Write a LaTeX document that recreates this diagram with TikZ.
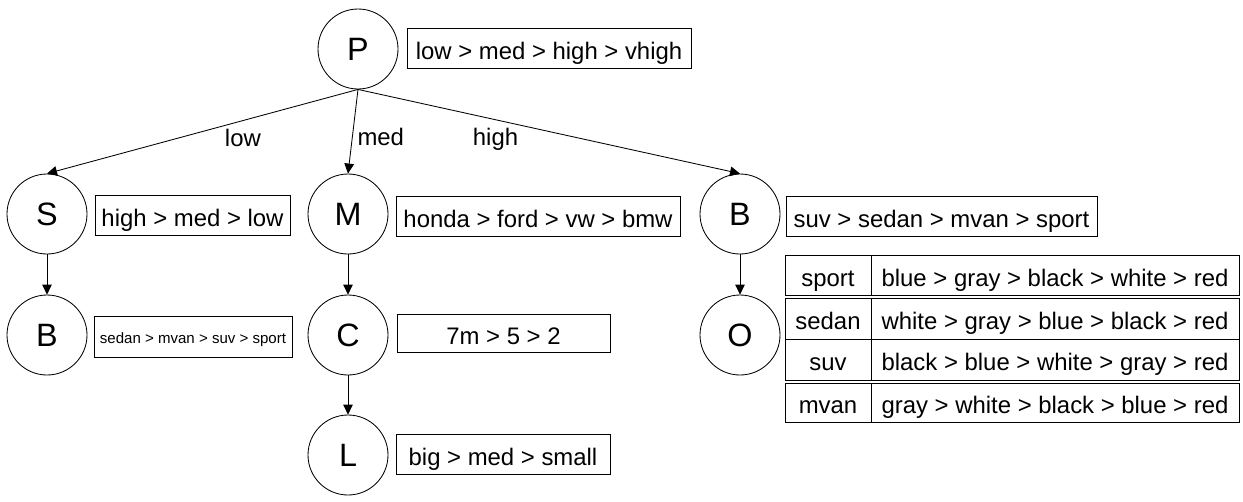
\documentclass[tikz,border=0pt]{standalone}
\usepackage{fontspec}
\setmainfont{Liberation Sans}
\usetikzlibrary{arrows.meta}
\newlength\px
\setlength\px{0.025cm}
\tikzset{
  vertex/.style={draw,circle,minimum size=80\px,inner sep=0pt,line width=0.6pt,
    font=\fontsize{23}{27}\selectfont},
  order/.style={draw,rectangle,inner sep=0pt,line width=0.6pt,
    text height=18pt,text depth=2pt,
    font=\fontsize{17}{20}\selectfont},
  lbl/.style={font=\fontsize{17}{20}\selectfont},
  arr/.style={-{Triangle[length=2.5mm,width=2.4mm]},line width=0.6pt},
}
\begin{document}
\begin{tikzpicture}[x=\px,y=-\px]
\useasboundingbox (0,0) rectangle (1243,501);

% variables
\node[vertex] (P) at (358,49) {P};
\node[vertex] (S) at (47,214) {S};
\node[vertex] (B1) at (47,335) {B};
\node[vertex] (M) at (348,214) {M};
\node[vertex] (C) at (348,335) {C};
\node[vertex] (L) at (348,455) {L};
\node[vertex] (B2) at (740,214) {B};
\node[vertex] (O) at (740,335) {O};

% preference orders
\node[order,minimum width=284\px,minimum height=40\px] (Pord) at (549,48) {low > med > high > vhigh};
\node[order,minimum width=195\px,minimum height=40\px] (Sord) at (192.5,215) {high > med > low};
\node[order,minimum width=198\px,minimum height=41\px,text height=11pt,text depth=1pt,
  font=\fontsize{10.7}{13}\selectfont] (B1ord) at (193,336.5) {sedan > mvan > suv > sport};
\node[order,minimum width=284\px,minimum height=40\px] (Mord) at (538,216) {honda > ford > vw > bmw};
\node[order,minimum width=213\px,minimum height=38\px] (Cord) at (503.5,333) {7m > 5 > 2};
\node[order,minimum width=214\px,minimum height=40\px] (Lord) at (503,454) {big > med > small};
\node[order,minimum width=311\px,minimum height=40\px] (B2ord) at (941.5,216) {suv > sedan > mvan > sport};

% conditional table for O
\foreach \y/\h/\k/\v [count=\i] in {275/40/sport/blue > gray > black > white > red,
                                   318.5/41/sedan/white > gray > blue > black > red,
                                   359.5/41/suv/black > blue > white > gray > red,
                                   402.5/39/mvan/gray > white > black > blue > red}
{
  \node[order,minimum width=86\px,minimum height=\h\px] (k\i) at (828,\y) {\k};
  \node[order,minimum width=368\px,minimum height=\h\px] (v\i) at (1055,\y) {\v};
}

% edges
\draw[arr] (P.south) -- node[lbl,pos=0.37,below=2.5pt] (lowlbl) {low} (S.north);
\draw[arr] (P.south) -- node[lbl,pos=0.56,right] (medlbl) {med} (M.north);
\draw[arr] (P.south) -- node[lbl,pos=0.36,below=2.5pt] (highlbl) {high} (B2.north);
\foreach \a/\b in {S/B1,M/C,C/L,B2/O}
  \draw[arr] (\a) -- (\b);

\end{tikzpicture}
\end{document}
